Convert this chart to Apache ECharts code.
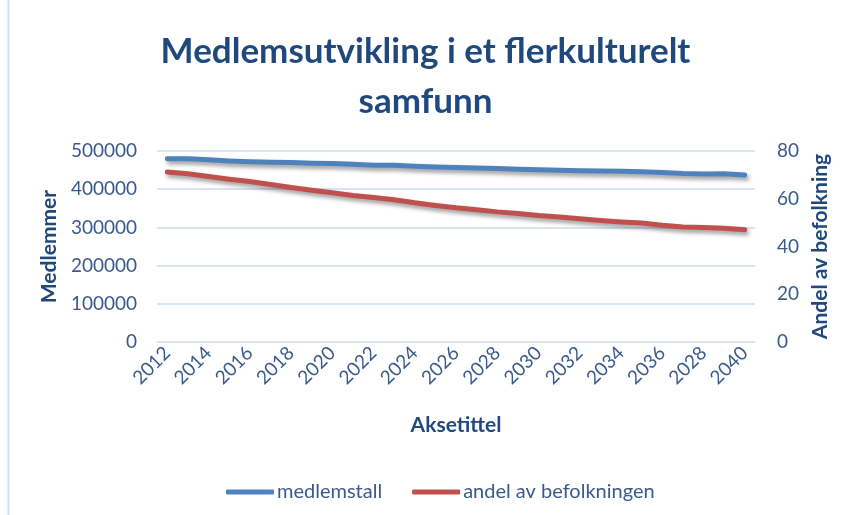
<!DOCTYPE html>
<html><head><meta charset="utf-8">
<script src="https://cdn.jsdelivr.net/npm/echarts@6/dist/echarts.min.js"></script>
<style>html,body{margin:0;padding:0;background:#fff}#c{width:851px;height:515px}</style>
</head><body><div id="c"></div>
<script>
const categories = ['2012','2013','2014','2015','2016','2017','2018','2019','2020','2021','2022','2023','2024','2025','2026','2027','2028','2029','2030','2031','2032','2033','2034','2035','2036','2037','2028','2039','2040'];
const medlemstall = [480000,479500,477000,474000,472000,470500,470000,468000,467000,465000,463000,462500,460000,458000,456500,455500,454000,452500,451000,449500,448000,447500,447000,445500,443500,441000,440000,440500,437000];
const andel = [71.2,70.5,69.3,68.2,67.2,66.0,64.7,63.6,62.5,61.4,60.5,59.6,58.3,57.2,56.2,55.4,54.5,53.8,53.0,52.4,51.6,50.9,50.3,49.8,48.9,48.2,48.0,47.6,47.0];
const leftTicks = [0,100000,200000,300000,400000,500000];
const rightTicks = [0,20,40,60,80];
const seriesNames = ['medlemstall','andel av befolkningen'];

const FONT = 'Lato';
const dark = '#1F497D';
const tick = '#3A5A8C';
const chart = echarts.init(document.getElementById('c'), null, {renderer:'canvas'});
chart.setOption({
  animation:false,
  textStyle:{fontFamily:FONT},
  title:{text:'Medlemsutvikling i et flerkulturelt\nsamfunn', left:'center', top:22,
    textStyle:{fontFamily:FONT, fontWeight:'bold', fontSize:35, lineHeight:50, color:dark}},
  graphic:[{type:'line', shape:{x1:8.5,y1:0,x2:8.5,y2:515}, style:{stroke:'#D6E2F0', lineWidth:2}}],
  legend:{left:221, top:477, itemWidth:48, itemHeight:5, itemGap:30, icon:'roundRect',
    textStyle:{fontFamily:FONT, fontSize:20, color:tick, padding:[0,0,0,-2]},
    data:seriesNames},
  grid:{left:157, right:96, top:151, bottom:173},
  xAxis:{type:'category', data:categories, boundaryGap:true,
    name:'Aksetittel', nameLocation:'middle', nameGap:73,
    nameTextStyle:{fontFamily:FONT, fontWeight:'bold', fontSize:21, color:dark},
    axisLine:{show:false}, axisTick:{show:false},
    axisLabel:{interval:1, rotate:45, fontSize:19, color:tick, margin:8}},
  yAxis:[
    {type:'value', min:leftTicks[0], max:leftTicks[leftTicks.length-1], interval:leftTicks[1]-leftTicks[0],
     name:'Medlemmer', nameLocation:'middle', nameGap:92, nameRotate:90,
     nameTextStyle:{fontFamily:FONT, fontWeight:'bold', fontSize:21, color:dark},
     axisLabel:{fontSize:19, color:tick, margin:20, formatter:v=>String(v)},
     splitLine:{lineStyle:{color:'#D9E4F2', width:2}}},
    {type:'value', min:rightTicks[0], max:rightTicks[rightTicks.length-1], interval:rightTicks[1]-rightTicks[0],
     name:'Andel av befolkning', nameLocation:'middle', nameGap:54, nameRotate:90,
     nameTextStyle:{fontFamily:FONT, fontWeight:'bold', fontSize:21, color:dark},
     axisLabel:{fontSize:19, color:tick, margin:22},
     splitLine:{show:false}}
  ],
  series:[
    {name:seriesNames[0], type:'line', yAxisIndex:0, data:medlemstall, showSymbol:false, symbol:'none',
     color:'#4F81BD',
     lineStyle:{width:5, color:'#4F81BD', cap:'round', join:'round', shadowColor:'rgba(0,0,0,0.4)', shadowBlur:4, shadowOffsetX:2, shadowOffsetY:3}},
    {name:seriesNames[1], type:'line', yAxisIndex:1, data:andel, showSymbol:false, symbol:'none',
     color:'#C0504D',
     lineStyle:{width:5, color:'#C0504D', cap:'round', join:'round', shadowColor:'rgba(0,0,0,0.4)', shadowBlur:4, shadowOffsetX:2, shadowOffsetY:3}}
  ]
});
</script></body></html>
